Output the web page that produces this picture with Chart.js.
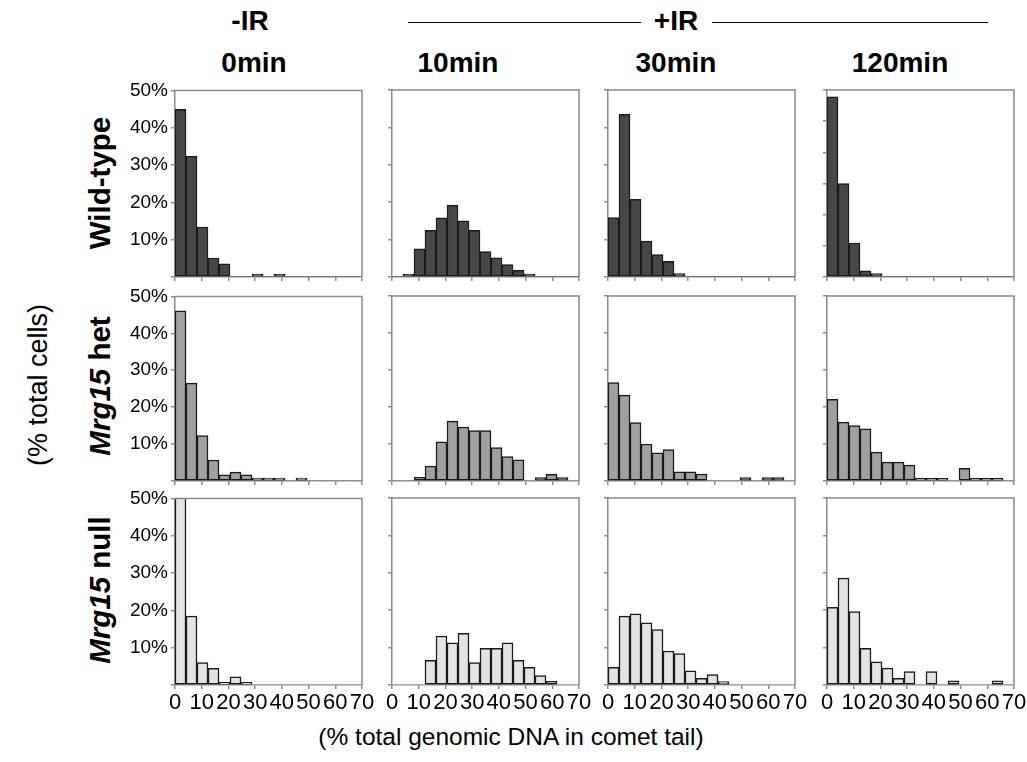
<!DOCTYPE html>
<html>
<head>
<meta charset="utf-8">
<script src="https://cdn.jsdelivr.net/npm/chart.js@4"></script>
<style>
  body { margin: 0; background: #fff; font-family: "Liberation Sans", Arial, sans-serif; }
  #page { position: relative; width: 1027px; height: 762px; overflow: hidden; }
  .lbl { position: absolute; white-space: nowrap; line-height: 1; color: #000; transform: translate(-50%, -50%); }
  .head { font-weight: bold; font-size: 28px; }
  .rowname { font-weight: bold; font-size: 29.5px; transform: translate(-50%, -50%) rotate(-90deg); }
  .axtitle { font-size: 24.5px; }
  .rule { position: absolute; height: 0; border-top: 1.5px solid #000; }
  canvas { position: absolute; }
</style>
</head>
<body>
<div id="page">
  <div class="lbl head" style="left:250px; top:21px">-IR</div>
  <div class="lbl head" style="left:676px; top:21px">+IR</div>
  <div class="rule" style="left:408px; top:22px; width:233px"></div>
  <div class="rule" style="left:712px; top:22px; width:276px"></div>
  <div class="lbl head" style="left:254px; top:63px">0min</div>
  <div class="lbl head" style="left:458px; top:63px">10min</div>
  <div class="lbl head" style="left:676px; top:63px">30min</div>
  <div class="lbl head" style="left:900px; top:63px">120min</div>

  <div class="lbl rowname" style="left:100px; top:183px">Wild-type</div>
  <div class="lbl rowname" style="left:100px; top:386px"><i>Mrg15</i> het</div>
  <div class="lbl rowname" style="left:100px; top:590px"><i>Mrg15</i> null</div>

  <div class="lbl axtitle" style="left:38px; top:385px; font-size:27px; transform: translate(-50%, -50%) rotate(-90deg)">(% total cells)</div>
  <div class="lbl axtitle" style="left:511px; top:737px">(% total genomic DNA in comet tail)</div>
</div>
<script>
// bin starts, % genomic DNA in the comet tail (5% wide bins)
const bins = [0, 5, 10, 15, 20, 25, 30, 35, 40, 45, 50, 55, 60, 65, 70, 75, 80];
const xTickLabels = ['0', '10', '20', '30', '40', '50', '60', '70'];

// % of cells per bin
const wt0    = [44.9, 32.4, 13.4, 5.1, 3.5, 0, 0, 0.8, 0, 0.8];
const wt10   = [0, 0.8, 7.5, 12.5, 15.8, 19.2, 15.0, 12.5, 6.8, 5.1, 3.3, 1.8, 0.8];
const wt30   = [15.9, 43.5, 20.8, 9.6, 6.0, 4.2, 0.9];
const wt120  = [57.8, 30.0, 10.9, 2.0, 1.1];
const het0   = [46.1, 26.5, 12.3, 5.7, 1.7, 2.4, 1.7, 0.8, 0.8, 0.8, 0, 0.8];
const het10  = [0, 0, 1.0, 4.0, 10.6, 16.2, 14.6, 13.6, 13.6, 9.0, 6.6, 5.7, 0, 0.9, 1.8, 0.9];
const het30  = [26.6, 23.2, 15.8, 10.0, 7.6, 8.5, 2.5, 2.5, 1.9, 0, 0, 0, 0.9, 0, 0.9, 0.9];
const het120 = [22.1, 15.9, 15.0, 14.1, 7.8, 5.1, 5.1, 4.3, 0.7, 0.7, 0.7, 0, 3.4, 0.7, 0.7, 0.7];
const null0  = [67.0, 18.5, 6.0, 4.5, 0.7, 2.2, 0.7];
const null10 = [0, 0, 0, 6.6, 13.1, 11.3, 13.8, 6.0, 9.8, 9.8, 11.3, 6.6, 4.7, 2.5, 1.0];
const null30 = [4.7, 18.4, 19.0, 16.6, 14.8, 9.1, 8.4, 3.8, 1.8, 2.8, 0.9];
const null120 = [20.8, 28.6, 19.6, 9.8, 6.2, 4.5, 1.8, 3.6, 0, 3.6, 0, 1.1, 0, 0, 0, 1.1];

const grid = [
  [wt0, wt10, wt30, wt120],
  [het0, het10, het30, het120],
  [null0, null10, null30, null120]
];
const yMax = [[50, 50, 50, 60], [50, 50, 50, 50], [50, 50, 50, 50]];
const fills = ['#474747', '#a0a0a0', '#e3e3e3'];

// plot-area placement on the page
const colLeft = [175, 392, 608, 827];
const rowTop = [90, 296, 498];
const rowH = [187, 185, 187];
const plotW = 187;
const padL = 60, padT = 14, padR = 32, padB = 34;
const axisGray = '#8a8a8a';

Chart.defaults.font.family = '"Liberation Sans", Arial, sans-serif';
Chart.defaults.color = '#000';

const frame = {
  id: 'frame',
  afterDraw(chart) {
    const a = chart.chartArea, g = chart.ctx;
    g.save();
    g.strokeStyle = axisGray;
    g.lineWidth = 1.5;
    g.beginPath();
    g.moveTo(a.left, a.top);
    g.lineTo(a.right, a.top);
    g.lineTo(a.right, a.bottom);
    g.stroke();
    g.restore();
  }
};

const page = document.getElementById('page');

function panel(r, c) {
  const values = grid[r][c];
  const cv = document.createElement('canvas');
  cv.width = padL + plotW + padR;
  cv.height = padT + rowH[r] + padB;
  cv.style.left = (colLeft[c] - padL) + 'px';
  cv.style.top = (rowTop[r] - padT) + 'px';
  page.appendChild(cv);

  new Chart(cv, {
    type: 'bar',
    data: {
      datasets: [{
        data: bins.map((b, i) => ({ x: b + 2.5, y: values[i] || 0 })),
        backgroundColor: fills[r],
        borderColor: '#1a1a1a',
        borderWidth: ctx => (ctx.raw && ctx.raw.y > 0) ? 1.5 : 0,
        borderSkipped: false,
        barPercentage: 1,
        categoryPercentage: 1,
        xAxisID: 'x',
        yAxisID: 'y'
      }]
    },
    options: {
      responsive: false,
      animation: false,
      events: [],
      layout: { padding: { left: 0, top: padT, right: padR, bottom: 0 } },
      plugins: { legend: { display: false }, tooltip: { enabled: false } },
      scales: {
        x: { type: 'linear', min: 0, max: 85, offset: false, grid: { offset: false }, display: false },
        xl: {
          type: 'linear', position: 'bottom', min: 0, max: 70, offset: false,
          afterFit: s => { s.height = padB; },
          grid: { offset: false, drawOnChartArea: false, tickLength: 4, color: axisGray, lineWidth: 1.5 },
          border: { color: axisGray, width: 1.5 },
          ticks: {
            display: r === 2, stepSize: 10, autoSkip: false, maxRotation: 0, padding: 1,
            font: { size: 22 },
            callback: (v, i) => xTickLabels[i]
          }
        },
        y: {
          min: 0, max: yMax[r][c],
          afterFit: s => { s.width = padL; },
          grid: { drawOnChartArea: false, tickLength: 4, color: axisGray, lineWidth: 1.5 },
          border: { color: axisGray, width: 1.5 },
          ticks: {
            display: c === 0, stepSize: 10, padding: 3,
            font: { size: 19 },
            callback: v => v ? v + '%' : ''
          }
        }
      }
    },
    plugins: [frame]
  });
}

for (let r = 0; r < 3; r++) {
  for (let c = 0; c < 4; c++) panel(r, c);
}
</script>
</body>
</html>
